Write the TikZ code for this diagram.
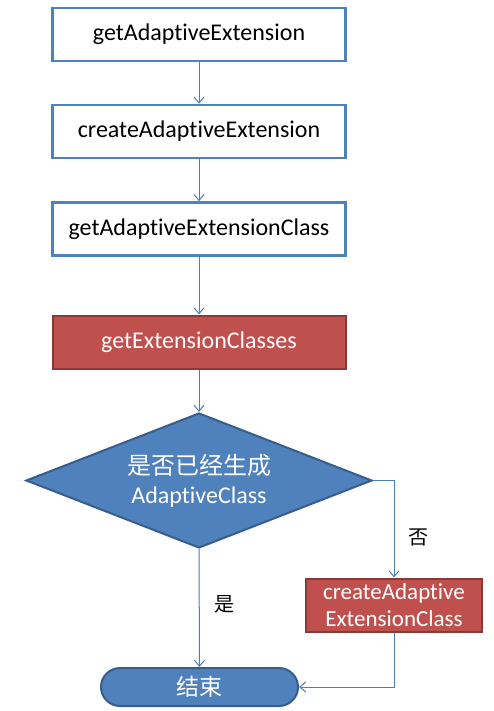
\documentclass[tikz,border=0pt]{standalone}
\usepackage{fontspec}
\setmainfont{Carlito}[Ligatures={NoCommon}]
\newfontfamily\cjk{Noto Sans CJK SC}
\usetikzlibrary{shapes.geometric,arrows.meta}
\definecolor{bborder}{HTML}{4F81BD}
\definecolor{bdark}{HTML}{385D8A}
\definecolor{rfill}{HTML}{C0504D}
\definecolor{rdark}{HTML}{8C3836}
\definecolor{arr}{HTML}{4A7EBB}
\tikzset{
  wbox/.style={draw=bborder, line width=2.5pt, fill=white, minimum width=293pt, minimum height=53pt, inner sep=0pt, font=\fontsize{24pt}{28pt}\selectfont},
  rbox/.style={draw=rdark, line width=2pt, fill=rfill, text=white, minimum width=293pt, minimum height=53pt, inner sep=0pt, font=\fontsize{24pt}{28pt}\selectfont},
  dia/.style={diamond, aspect=2.563, draw=bdark, line width=2pt, fill=bborder, text=white, minimum width=346pt, minimum height=135pt, inner sep=0pt, align=center, font=\fontsize{24pt}{29pt}\selectfont},
  term/.style={draw=bdark, line width=2pt, fill=bborder, text=white, minimum width=197pt, minimum height=38pt, rounded corners=19pt, inner sep=0pt, font=\cjk\fontsize{23pt}{26pt}\selectfont},
  conn/.style={draw=arr, line width=1pt, -{Straight Barb[length=6pt,width=10pt,line width=1pt]}},
  lab/.style={font=\cjk\fontsize{20pt}{22pt}\selectfont, text=black}
}
\begin{document}
\begin{tikzpicture}[x=1pt,y=-1pt]
\useasboundingbox (0,0) rectangle (493,711);
\node[wbox] (b1) at (199,34.5) {getAdaptiveExtension};
\node[wbox] (b2) at (199,131.5) {createAdaptiveExtension};
\node[wbox] (b3) at (199,229) {getAdaptiveExtensionClass};
\node[rbox] (r1) at (199,342) {getExtensionClasses};
\node[dia] (d) at (199,480.5) {{\cjk 是否已经生成}\\AdaptiveClass};
\node[rbox, minimum width=176pt, align=center, font=\fontsize{23pt}{27pt}\selectfont] (r2) at (394,605) {createAdaptive\\ExtensionClass};
\node[term] (e) at (199.5,687) {结束};
\node[lab] (no) at (418,537) {否};
\node[lab] (yes) at (224,604) {是};
\draw[conn] (b1) -- (b2);
\draw[conn] (b2) -- (b3);
\draw[conn] (b3) -- (r1);
\draw[conn] (r1) -- (d);
\draw[conn] (d.south) -- (e.north);
\draw[conn] (d.east) -| (r2.north);
\draw[conn] (r2.south) |- (e.east);
\end{tikzpicture}
\end{document}
